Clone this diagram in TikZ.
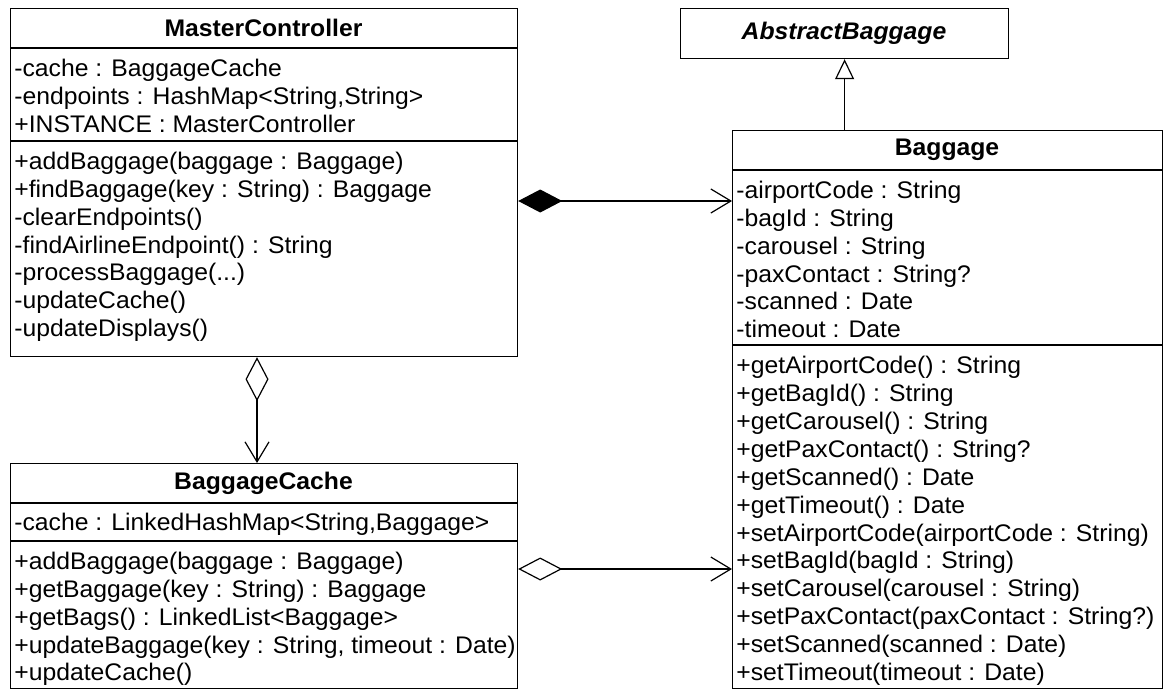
\documentclass[tikz,border=0pt]{standalone}
\usepackage{fontspec}
\setmainfont{Liberation Sans}[FakeStretch=1.03]
\usetikzlibrary{arrows.meta}

\tikzset{
	classbox/.style={draw, line width=0.6pt, anchor=north west, inner sep=0pt},
	classname/.style={inner sep=0pt, font=\fontsize{12pt}{14pt}\selectfont\bfseries},
	member/.style={anchor=west, inner sep=0pt, text height=8.6pt, text depth=0pt, font=\fontsize{12pt}{14pt}\selectfont},
	compose/.style={line width=0.6pt, {Diamond[length=22pt,width=11.5pt]}-{Straight Barb[length=10pt,width=12pt]}},
	aggregate/.style={line width=0.6pt, {Diamond[open,fill=white,length=22pt,width=11.5pt]}-{Straight Barb[length=10pt,width=12pt]}},
	inherit/.style={line width=0.6pt, -{Triangle[open,fill=white,length=10pt,width=9.5pt]}}
}

\begin{document}
\begin{tikzpicture}[x=0.5pt,y=-0.5pt]
	\useasboundingbox (0,0) rectangle (1170,690);

	% MasterController
	\node[classbox, minimum width=253.5pt, minimum height=174pt] (mc) at (10,8) {};
	\node[classname] (mcname) at (263.5,28) {MasterController};
	\draw[line width=0.6pt] (10,48) -- (517,48) (10,141) -- (517,141);
	\foreach \t [count=\i] in {-cache : BaggageCache, {-endpoints : HashMap<String,String>}, +INSTANCE : MasterController}
		\node[member] (mca\i) at (14,{68+27.8*(\i-1)}) {\t};
	\foreach \t [count=\i] in {+addBaggage(baggage : Baggage), +findBaggage(key : String) : Baggage, -clearEndpoints(), -findAirlineEndpoint() : String, {-processBaggage(..{}.)}, -updateCache(), -updateDisplays()}
		\node[member] (mcm\i) at (14,{161+27.8*(\i-1)}) {\t};

	% AbstractBaggage
	\node[classbox, minimum width=164pt, minimum height=25pt] (abs) at (680,8) {};
	\node[classname, font=\fontsize{12pt}{14pt}\selectfont\bfseries\itshape] (absname) at (844,33) {AbstractBaggage};

	% Baggage
	\node[classbox, minimum width=215pt, minimum height=279pt] (bag) at (732,130) {};
	\node[classname] (bagname) at (947,150) {Baggage};
	\draw[line width=0.6pt] (732,170) -- (1162,170) (732,345) -- (1162,345);
	\foreach \t [count=\i] in {-airportCode : String, -bagId : String, -carousel : String, -paxContact : String?, -scanned : Date, -timeout : Date}
		\node[member] (baga\i) at (736,{190+27.8*(\i-1)}) {\t};
	\foreach \t [count=\i] in {+getAirportCode() : String, +getBagId() : String, +getCarousel() : String, +getPaxContact() : String?, +getScanned() : Date, +getTimeout() : Date, +setAirportCode(airportCode : String), +setBagId(bagId : String), +setCarousel(carousel : String), +setPaxContact(paxContact : String?), +setScanned(scanned : Date), +setTimeout(timeout : Date)}
		\node[member] (bagm\i) at (736,{365+27.9*(\i-1)}) {\t};

	% BaggageCache
	\node[classbox, minimum width=253.5pt, minimum height=112.5pt] (bc) at (10,463) {};
	\node[classname] (bcname) at (263.5,483) {BaggageCache};
	\draw[line width=0.6pt] (10,503) -- (517,503) (10,541) -- (517,541);
	\node[member] (bca1) at (14,522) {-cache : LinkedHashMap<String,Baggage>};
	\foreach \t [count=\i] in {+addBaggage(baggage : Baggage), +getBaggage(key : String) : Baggage, +getBags() : LinkedList<Baggage>, {+updateBaggage(key : String, timeout : Date)}, +updateCache()}
		\node[member] (bcm\i) at (14,{561+27.8*(\i-1)}) {\t};

	% relations
	\draw[inherit] (abs.south |- bag.north) -- (abs.south);
	\draw[compose] (mc.east |- 0,201) -- (bag.west |- 0,201);
	\draw[aggregate] (bc.east |- 0,569) -- (bag.west |- 0,569);
	\draw[aggregate] (mc.south -| 257,0) -- (bc.north -| 257,0);
\end{tikzpicture}
\end{document}
